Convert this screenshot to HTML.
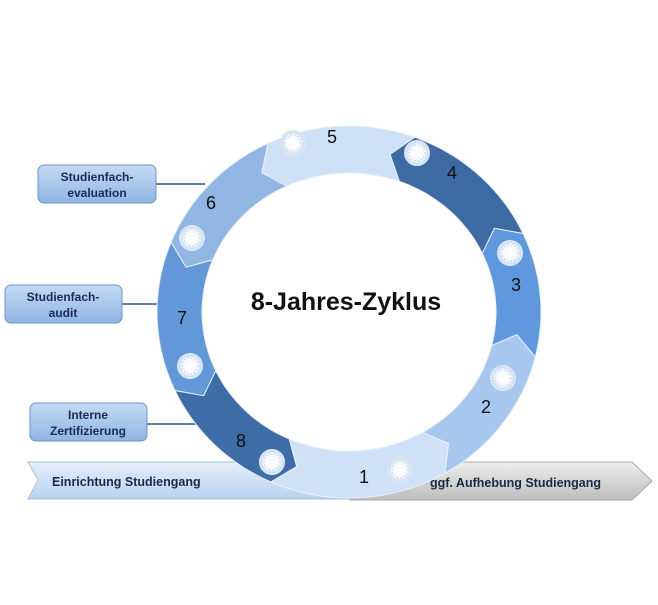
<!DOCTYPE html>
<html><head><meta charset="utf-8"><style>
html,body{margin:0;padding:0;background:#fff;}
body{width:658px;height:600px;overflow:hidden;font-family:"Liberation Sans",sans-serif;}
</style></head><body>
<svg id="s" width="658" height="600" viewBox="0 0 658 600" xmlns="http://www.w3.org/2000/svg">
<defs>
<linearGradient id="lb" x1="0" y1="0" x2="0" y2="1"><stop offset="0" stop-color="#e4effb"/><stop offset="1" stop-color="#b9d2ef"/></linearGradient>
<linearGradient id="gb" x1="0" y1="0" x2="0" y2="1"><stop offset="0" stop-color="#eeeeee"/><stop offset="1" stop-color="#bdbdbd"/></linearGradient>
<linearGradient id="box" x1="0" y1="0" x2="0" y2="1"><stop offset="0" stop-color="#c4daf4"/><stop offset="1" stop-color="#8fb5e2"/></linearGradient>
<radialGradient id="ic"><stop offset="0" stop-color="#ffffff"/><stop offset="0.7" stop-color="#f4f8fd"/><stop offset="1" stop-color="#b8cde6"/></radialGradient>
</defs>
<polygon points="28,462 350,462 350,499 28,499 38,480" fill="url(#lb)" stroke="#a8c0de"/>
<polygon points="350,462 632,462 652,481 632,500 350,500" fill="url(#gb)" stroke="#aaa"/>
<text x="52" y="486" font-size="12.5" font-weight="bold" fill="#1b2a44">Einrichtung Studiengang</text>
<text x="430" y="487" font-size="12.5" font-weight="bold" fill="#1b2a44">ggf. Aufhebung Studiengang</text>
<line x1="156" y1="184" x2="205" y2="184" stroke="#5a7ca8" stroke-width="2"/>
<line x1="122" y1="304" x2="160" y2="304" stroke="#5a7ca8" stroke-width="2"/>
<line x1="147" y1="424" x2="197" y2="424" stroke="#5a7ca8" stroke-width="2"/>
<g id="ring"></g>
<rect x="38" y="165" width="118" height="38" rx="6" fill="url(#box)" stroke="#6f93c2"/>
<text x="97" y="181" font-size="12" font-weight="bold" fill="#1b2a55" text-anchor="middle">Studienfach-</text>
<text x="97" y="197" font-size="12" font-weight="bold" fill="#1b2a55" text-anchor="middle">evaluation</text>
<rect x="5" y="285" width="117" height="38" rx="6" fill="url(#box)" stroke="#6f93c2"/>
<text x="63" y="301" font-size="12" font-weight="bold" fill="#1b2a55" text-anchor="middle">Studienfach-</text>
<text x="63" y="317" font-size="12" font-weight="bold" fill="#1b2a55" text-anchor="middle">audit</text>
<rect x="30" y="403" width="117" height="38" rx="6" fill="url(#box)" stroke="#6f93c2"/>
<text x="88" y="419" font-size="12" font-weight="bold" fill="#1b2a55" text-anchor="middle">Interne</text>
<text x="88" y="435" font-size="12" font-weight="bold" fill="#1b2a55" text-anchor="middle">Zertifizierung</text>
<text x="346" y="310" font-size="25" font-weight="bold" fill="#111" text-anchor="middle">8-Jahres-Zyklus</text>
<g font-size="18" fill="#111" text-anchor="middle">
<text x="332" y="143">5</text><text x="452" y="179">4</text><text x="516" y="291">3</text><text x="486" y="413">2</text>
<text x="364" y="483">1</text><text x="241" y="447">8</text><text x="182" y="324">7</text><text x="211" y="209">6</text>
</g>
</svg>
<script>
var cx=349,cy=312,ro=[192,186],ri=[147,139];
var segs=[[60,114,"#cfe1f6"],[14,60,"#a8c7ee"],[-25,14,"#5f98dc"],[-70,-25,"#3d6aa3"],[-115,-70,"#cde0f5"],[-158,-115,"#92b6e2"],[-205,-158,"#6398d8"],[-246,-205,"#3e6ca6"]];
function pt(a,rx,ry){var r=a*Math.PI/180;return (cx+rx*Math.cos(r)).toFixed(1)+","+(cy+ry*Math.sin(r)).toFixed(1);}
var g=document.getElementById("ring"),h="";
segs.forEach(function(s){var lo=s[0],hi=s[1],p=[],a;
for(a=hi;a>=lo;a-=2)p.push(pt(a,ro[0],ro[1]));p.push(pt(lo,ro[0],ro[1]));
p.push(pt(lo-6,(ro[0]+ri[0])/2,(ro[1]+ri[1])/2));
for(a=lo;a<=hi;a+=2)p.push(pt(a,ri[0],ri[1]));p.push(pt(hi,ri[0],ri[1]));
p.push(pt(hi-6,(ro[0]+ri[0])/2,(ro[1]+ri[1])/2));
h+='<polygon points="'+p.join(" ")+'" fill="'+s[2]+'" stroke="#e8f0fa" stroke-width="1"/>';});
[[293,143],[417,153],[510,253],[503,378],[400,470],[272,462],[190,366],[192,238]].forEach(function(c){
h+='<circle cx="'+c[0]+'" cy="'+c[1]+'" r="12" fill="url(#ic)" stroke="#d8e6f6" stroke-width="2"/><circle cx="'+c[0]+'" cy="'+c[1]+'" r="8" fill="none" stroke="#b9cbe0" stroke-width="1" stroke-dasharray="1.5 2"/>';});
g.innerHTML=h;
</script>
</body></html>
